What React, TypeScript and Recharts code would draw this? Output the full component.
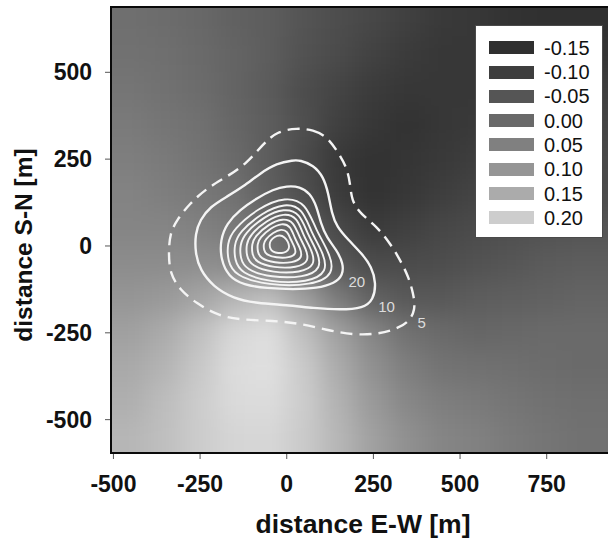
import {
  ComposedChart,
  Label,
  Legend,
  Line,
  Scatter,
  XAxis,
  YAxis,
} from 'recharts'

// axis ticks
const xTicks = [-500, -250, 0, 250, 500, 750]
const yTicks = [-500, -250, 0, 250, 500]

// legend (shading scale)
const legendLabels = ['-0.15', '-0.10', '-0.05', '0.00', '0.05', '0.10', '0.15', '0.20']
const legendColors = ['#2f2f2f', '#3e3e3e', '#555555', '#696969', '#808080', '#959595', '#ababab', '#cdcdcd']

// background field, cell centres every 100 m
const heatX = [-550, -450, -350, -250, -150, -50, 50, 150, 250, 350, 450, 550, 650, 750, 850, 950]
const heatY = [750, 650, 550, 450, 350, 250, 150, 50, -50, -150, -250, -350, -450, -550, -650]
const heatValues = [
  [-0.005, -0.005, -0.01, -0.02, -0.035, -0.045, -0.065, -0.08, -0.095, -0.11, -0.125, -0.13, -0.14, -0.145, -0.145, -0.145],
  [-0.005, -0.005, -0.01, -0.02, -0.035, -0.045, -0.065, -0.08, -0.095, -0.11, -0.125, -0.13, -0.14, -0.145, -0.145, -0.145],
  [0.0, 0.0, -0.005, -0.015, -0.03, -0.045, -0.07, -0.085, -0.105, -0.12, -0.13, -0.13, -0.135, -0.135, -0.135, -0.135],
  [0.01, 0.01, 0.0, -0.01, -0.03, -0.05, -0.08, -0.1, -0.12, -0.13, -0.13, -0.13, -0.125, -0.12, -0.115, -0.115],
  [0.02, 0.02, 0.01, 0.0, -0.025, -0.045, -0.075, -0.11, -0.13, -0.14, -0.13, -0.125, -0.115, -0.105, -0.1, -0.1],
  [0.03, 0.03, 0.02, 0.005, -0.015, -0.045, -0.085, -0.125, -0.14, -0.135, -0.125, -0.115, -0.105, -0.095, -0.09, -0.09],
  [0.04, 0.04, 0.03, 0.015, 0.0, -0.04, -0.075, -0.12, -0.14, -0.13, -0.115, -0.1, -0.09, -0.085, -0.085, -0.085],
  [0.045, 0.045, 0.045, 0.035, 0.02, -0.005, -0.04, -0.09, -0.12, -0.11, -0.095, -0.085, -0.075, -0.07, -0.065, -0.065],
  [0.06, 0.06, 0.06, 0.065, 0.055, 0.02, -0.015, -0.055, -0.085, -0.085, -0.08, -0.07, -0.06, -0.05, -0.045, -0.045],
  [0.08, 0.08, 0.09, 0.115, 0.15, 0.175, 0.105, 0.02, -0.035, -0.055, -0.055, -0.045, -0.04, -0.035, -0.03, -0.03],
  [0.105, 0.105, 0.13, 0.175, 0.23, 0.245, 0.175, 0.105, 0.045, 0.0, -0.015, -0.025, -0.02, -0.015, -0.015, -0.015],
  [0.125, 0.125, 0.15, 0.195, 0.24, 0.25, 0.2, 0.13, 0.07, 0.03, 0.005, 0.0, -0.005, -0.01, -0.015, -0.015],
  [0.14, 0.14, 0.17, 0.205, 0.235, 0.24, 0.205, 0.145, 0.09, 0.05, 0.03, 0.02, 0.01, 0.0, -0.005, -0.005],
  [0.155, 0.155, 0.175, 0.205, 0.225, 0.23, 0.2, 0.155, 0.105, 0.07, 0.045, 0.035, 0.02, 0.01, 0.0, 0.0],
  [0.155, 0.155, 0.175, 0.205, 0.225, 0.23, 0.2, 0.155, 0.105, 0.07, 0.045, 0.035, 0.02, 0.01, 0.0, 0.0],
]

// contour lines [x, y] in metres
const contour5 = [
  [29, 340], [77, 334], [115, 315], [144, 276], [173, 228], [183, 180], [187, 132], [211, 94], [260, 56],
  [298, 8], [327, -40], [351, -88], [365, -136], [372, -184], [350, -222], [308, -242], [260, -254],
  [192, -256], [115, -242], [38, -223], [-39, -215], [-135, -213], [-202, -199], [-260, -165],
  [-308, -127], [-337, -79], [-341, -21], [-337, 36], [-317, 75], [-279, 123], [-231, 166], [-173, 199],
  [-115, 238], [-67, 295], [-29, 329],
]
const contour10 = [
  [19, 247], [-29, 238], [-77, 209], [-125, 171], [-173, 142], [-221, 113], [-250, 75], [-264, 36],
  [-264, -21], [-250, -69], [-212, -117], [-154, -151], [-87, -165], [0, -170], [77, -179], [154, -184],
  [221, -179], [250, -155], [258, -107], [245, -60], [216, -21], [178, 17], [144, 56], [130, 94],
  [120, 152], [106, 199], [77, 233], [38, 247],
]
const contour20 = [
  [0, 173], [-39, 163], [-87, 137], [-135, 104], [-173, 65], [-192, 17], [-190, -40], [-168, -88],
  [-125, -112], [-58, -122], [19, -125], [87, -122], [139, -107], [162, -84], [163, -50], [144, -12],
  [115, 25], [98, 65], [87, 113], [67, 152], [38, 171],
]
const contour30 = [
  [-3, 142], [-80, 111], [-155, 48], [-172, 7], [-170, -43], [-151, -85], [-54, -114], [73, -114],
  [139, -81], [123, -19], [83, 48], [55, 124],
]
const contour40 = [
  [-5, 124], [-71, 96], [-137, 40], [-152, 3], [-150, -41], [-133, -78], [-49, -105], [62, -105],
  [119, -75], [105, -19], [70, 40], [46, 108],
]
const contour50 = [
  [-7, 109], [-65, 85], [-122, 36], [-135, 3], [-134, -35], [-119, -68], [-46, -91], [51, -91],
  [101, -65], [89, -16], [59, 36], [38, 95],
]
const contour60 = [
  [-8, 95], [-58, 74], [-106, 32], [-117, 4], [-116, -29], [-103, -57], [-41, -77], [41, -77],
  [83, -55], [73, -13], [47, 32], [30, 83],
]
const contour70 = [
  [-11, 80], [-52, 63], [-92, 28], [-101, 5], [-100, -23], [-90, -46], [-38, -63], [30, -63],
  [65, -44], [56, -9], [35, 28], [20, 70],
]
const contour80 = [
  [-14, 66], [-46, 52], [-78, 24], [-85, 5], [-84, -17], [-76, -36], [-36, -49], [18, -49],
  [46, -34], [39, -6], [22, 24], [11, 58],
]
const contour90 = [
  [-16, 49], [-39, 39], [-62, 19], [-67, 5], [-66, -11], [-60, -25], [-31, -34], [8, -34],
  [28, -23], [23, -3], [11, 19], [2, 43],
]
const contour100 = [
  [-20, 32], [-35, 27], [-47, 16], [-50, 5], [-48, -8], [-40, -17], [-25, -21], [-8, -20],
  [4, -13], [8, -2], [4, 12], [-6, 26],
]
const innerContours = [contour30, contour40, contour50, contour60, contour70, contour80, contour90, contour100]

const contourLabels = [
  { x: 202, y: -103, text: '20' },
  { x: 288, y: -175, text: '10' },
  { x: 389, y: -221, text: '5' },
]

const X_MIN = -507
const X_MAX = 947
const Y_MIN = -596
const Y_MAX = 688

const CHART_W = 620
const CHART_H = 539
const MARGIN = { top: 7, right: 5, bottom: 0, left: 0 }
const Y_AXIS_W = 111
const X_AXIS_H = 86
const PLOT_W = CHART_W - MARGIN.right - MARGIN.left - Y_AXIS_W
const PLOT_H = CHART_H - MARGIN.top - MARGIN.bottom - X_AXIS_H
const CELL_W = (100 * PLOT_W) / (X_MAX - X_MIN)
const CELL_H = (100 * PLOT_H) / (Y_MAX - Y_MIN)

const FONT = '"Liberation Sans", Arial, Helvetica, sans-serif'

const heatCells = heatY.flatMap((y, r) => heatX.map((x, c) => ({ x, y, v: heatValues[r][c] })))

const toPoints = (pts: number[][]) => pts.map(([x, y]) => ({ x, y }))

function shade(v: number) {
  const g = Math.max(0, Math.min(255, Math.round(46 + (v + 0.15) * 446)))
  return `rgb(${g},${g},${g})`
}

function HeatCell(props: any) {
  const { cx, cy, payload } = props
  if (cx == null || cy == null) return null
  return (
    <rect
      x={cx - CELL_W / 2 - 0.5}
      y={cy - CELL_H / 2 - 0.5}
      width={CELL_W + 1}
      height={CELL_H + 1}
      fill={shade(payload.v)}
    />
  )
}

function ContourLabel(props: any) {
  const { cx, cy, payload } = props
  if (cx == null || cy == null) return null
  return (
    <text
      x={cx}
      y={cy}
      textAnchor="middle"
      dominantBaseline="central"
      fill="#dcdcdc"
      fontSize={15}
      fontFamily={FONT}
    >
      {payload.text}
    </text>
  )
}

function ShadeLegend() {
  return (
    <div
      style={{
        width: 128,
        height: 213,
        boxSizing: 'border-box',
        background: '#fff',
        border: '1.5px solid #4a4a4a',
        position: 'relative',
        fontFamily: FONT,
      }}
    >
      {legendLabels.map((label, i) => (
        <div key={label} style={{ position: 'absolute', left: 0, top: 21.7 + i * 24.3 - 12, height: 24, width: '100%' }}>
          <div
            style={{
              position: 'absolute',
              left: 13,
              top: 5.5,
              width: 45,
              height: 13,
              background: legendColors[i],
            }}
          />
          <div
            style={{
              position: 'absolute',
              left: 68,
              top: 0,
              lineHeight: '24px',
              fontSize: 20,
              color: '#111',
            }}
          >
            {label}
          </div>
        </div>
      ))}
    </div>
  )
}

function XTitle(props: any) {
  const vb = props.viewBox || {}
  return (
    <text
      x={vb.x + vb.width / 2}
      y={vb.y + 80}
      textAnchor="middle"
      fontSize={26.5}
      fontWeight="bold"
      fontFamily={FONT}
      fill="#111"
    >
      distance E-W [m]
    </text>
  )
}

function YTitle(props: any) {
  const vb = props.viewBox || {}
  const cx = vb.x + 31.5
  const cy = vb.y + vb.height / 2 + 15
  return (
    <text
      x={cx}
      y={cy}
      transform={`rotate(-90, ${cx}, ${cy})`}
      textAnchor="middle"
      fontSize={24.5}
      fontWeight="bold"
      fontFamily={FONT}
      fill="#111"
    >
      distance S-N [m]
    </text>
  )
}

const tickStyle = { fill: '#111', fontSize: 23, fontWeight: 'bold', fontFamily: FONT }

export default function App() {
  return (
    <div
      style={{
        position: 'absolute',
        left: 0,
        top: 0,
        width: 608,
        height: 539,
        overflow: 'hidden',
        background: '#fff',
      }}
    >
      <style>{`.heat-layer { filter: url(#heatSmooth); }`}</style>
      <svg width={0} height={0} style={{ position: 'absolute' }}>
        <defs>
          <filter id="heatSmooth" x="-10%" y="-10%" width="120%" height="120%" colorInterpolationFilters="sRGB">
            <feGaussianBlur stdDeviation={12} />
            <feComponentTransfer>
              <feFuncA type="table" tableValues="1 1" />
            </feComponentTransfer>
          </filter>
        </defs>
      </svg>
      <div style={{ position: 'absolute', left: 0, top: 0, zIndex: 1 }}>
        <ComposedChart width={CHART_W} height={CHART_H} margin={MARGIN}>
          <XAxis
            dataKey="x"
            type="number"
            domain={[X_MIN, X_MAX]}
            allowDataOverflow
            ticks={xTicks}
            interval={0}
            height={X_AXIS_H}
            axisLine={false}
            tickLine={{ stroke: '#555', strokeWidth: 1 }}
            tickSize={6}
            tickMargin={17}
            tick={tickStyle}
          >
            <Label content={<XTitle />} />
          </XAxis>
          <YAxis
            dataKey="y"
            type="number"
            domain={[Y_MIN, Y_MAX]}
            allowDataOverflow
            ticks={yTicks}
            interval={0}
            width={Y_AXIS_W}
            axisLine={false}
            tickLine={{ stroke: '#555', strokeWidth: 1 }}
            tickSize={6}
            tickMargin={13}
            tick={tickStyle}
          >
            <Label content={<YTitle />} />
          </YAxis>
          <Scatter
            className="heat-layer"
            data={heatCells}
            shape={<HeatCell />}
            isAnimationActive={false}
            legendType="none"
            zIndex={-50}
          />
          <Line
            data={toPoints(contour5)}
            dataKey="y"
            type="basisClosed"
            stroke="#f4f4f4"
            strokeWidth={2.4}
            strokeDasharray="12 7"
            dot={false}
            activeDot={false}
            isAnimationActive={false}
            legendType="none"
          />
          <Line
            data={toPoints(contour10)}
            dataKey="y"
            type="basisClosed"
            stroke="#f4f4f4"
            strokeWidth={2.4}
            dot={false}
            activeDot={false}
            isAnimationActive={false}
            legendType="none"
          />
          <Line
            data={toPoints(contour20)}
            dataKey="y"
            type="basisClosed"
            stroke="#f4f4f4"
            strokeWidth={2.3}
            dot={false}
            activeDot={false}
            isAnimationActive={false}
            legendType="none"
          />
          {innerContours.map((c, i) => (
            <Line
              key={i}
              data={toPoints(c)}
              dataKey="y"
              type="basisClosed"
              stroke="#f4f4f4"
              strokeWidth={1.9}
              dot={false}
              activeDot={false}
              isAnimationActive={false}
              legendType="none"
            />
          ))}
          <Scatter
            data={contourLabels}
            shape={<ContourLabel />}
            isAnimationActive={false}
            legendType="none"
            zIndex={700}
          />
          <Legend
            layout="vertical"
            align="center"
            verticalAlign="middle"
            wrapperStyle={{ left: 475, top: 25, width: 128, height: 213 }}
            content={() => <ShadeLegend />}
          />
        </ComposedChart>
      </div>
      {/* plot frame, drawn over the chart */}
      <div
        style={{
          position: 'absolute',
          zIndex: 5,
          left: MARGIN.left + Y_AXIS_W - 1,
          top: MARGIN.top - 1,
          width: PLOT_W + 2,
          height: PLOT_H + 2,
          boxSizing: 'border-box',
          border: '2px solid #0a0a0a',
          pointerEvents: 'none',
        }}
      />
    </div>
  )
}
